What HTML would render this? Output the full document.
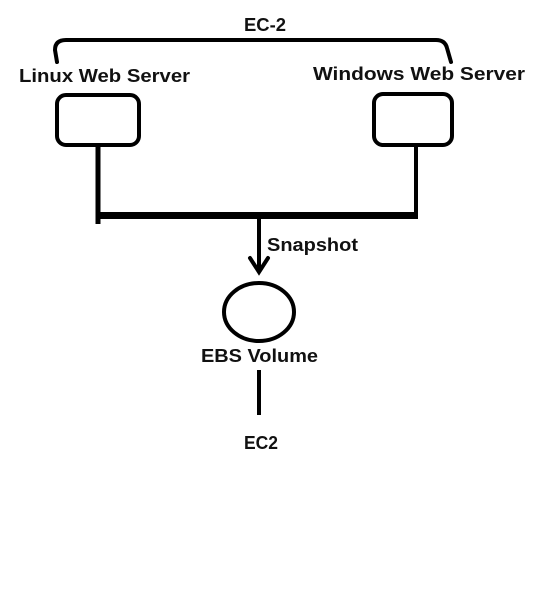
<!DOCTYPE html>
<html><head><style>html,body{margin:0;padding:0;background:#fff;}</style></head>
<body>
<svg width="537" height="605" viewBox="0 0 537 605" xmlns="http://www.w3.org/2000/svg">
<rect width="537" height="605" fill="#fff"/>
<g fill="none" stroke="#000" stroke-width="4" stroke-linecap="round" stroke-linejoin="round">
<path d="M57,62 L55,50 Q55,40 66,40 L436,40 Q445,40 447,48 L451,62"/>
<rect x="57" y="95" width="82" height="50" rx="9"/>
<rect x="374" y="94" width="78" height="51" rx="9"/>
<ellipse cx="259" cy="312" rx="35" ry="29"/>
</g>
<g stroke="#000" fill="none">
<line x1="98" y1="146" x2="98" y2="224" stroke-width="5"/>
<line x1="416" y1="146" x2="416" y2="219" stroke-width="4"/>
<line x1="96" y1="215.5" x2="418" y2="215.5" stroke-width="7"/>
<line x1="259" y1="218" x2="259" y2="272" stroke-width="4"/>
<path d="M250,258 L259,272 L268,258" stroke-width="4" stroke-linecap="round"/>
<line x1="259" y1="370" x2="259" y2="415" stroke-width="4"/>
</g>
<g font-family="Liberation Sans, sans-serif" font-weight="bold" font-size="18" fill="#111">
<text x="244" y="31" textLength="42" lengthAdjust="spacingAndGlyphs">EC-2</text>
<text x="19" y="82" textLength="171" lengthAdjust="spacingAndGlyphs">Linux Web Server</text>
<text x="313" y="80" textLength="212" lengthAdjust="spacingAndGlyphs">Windows Web Server</text>
<text x="267" y="251" textLength="91" lengthAdjust="spacingAndGlyphs">Snapshot</text>
<text x="201" y="362" textLength="117" lengthAdjust="spacingAndGlyphs">EBS Volume</text>
<text x="244" y="449" textLength="34" lengthAdjust="spacingAndGlyphs">EC2</text>
</g>
</svg>
</body></html>
